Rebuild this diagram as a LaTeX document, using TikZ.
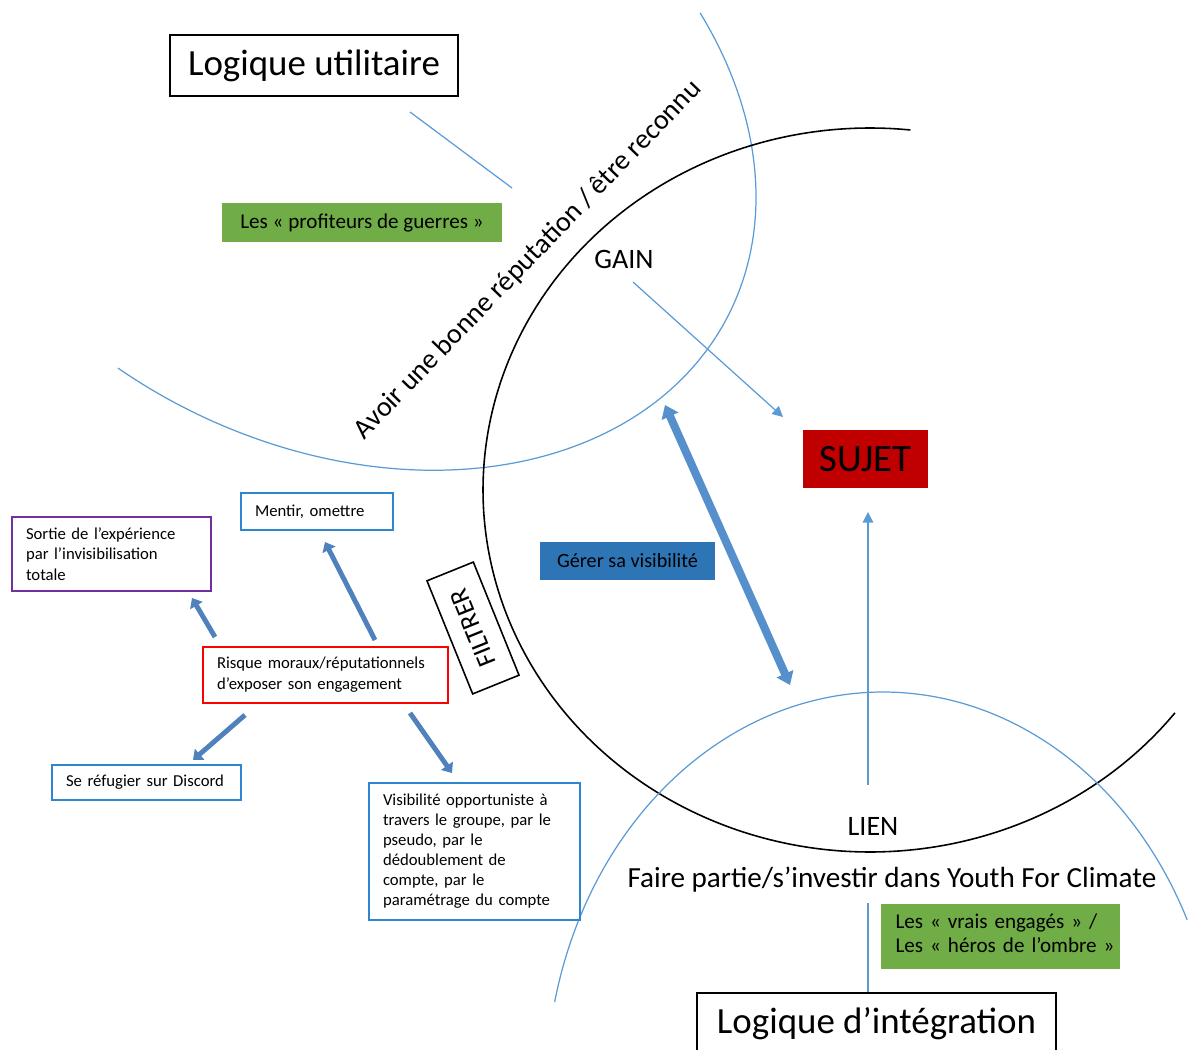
\documentclass[tikz,border=0pt]{standalone}
\usepackage{fontspec}
\setmainfont{Carlito}
\usetikzlibrary{arrows.meta}
\definecolor{lblue}{HTML}{5B9BD5}
\definecolor{fatblue}{HTML}{4F81BD}
\definecolor{dblue}{HTML}{5590CC}
\definecolor{gbox}{HTML}{70AD47}
\definecolor{sred}{HTML}{C00000}
\definecolor{gererc}{HTML}{2E75B6}
\definecolor{purp}{HTML}{7030A0}
\definecolor{bbord}{HTML}{2E86D0}
\begin{document}
\begin{tikzpicture}[x=0.02cm,y=-0.02cm,
  thinline/.style={draw=lblue, line width=0.7pt},
  thinarrow/.style={thinline, -{Triangle[length=6pt,width=6pt]}},
  fatarrow/.style={draw=fatblue, line width=2.8pt, -{Triangle[length=5pt,width=8pt]}},
  titlebox/.style={draw=black, line width=0.8pt, font=\fontsize{21}{25}\selectfont, inner sep=0pt},
  smallbox/.style={draw, line width=1pt, align=left, font=\fontsize{9.5}{11.8}\selectfont, inner xsep=0.28cm, inner ysep=0pt},
  greenbox/.style={fill=gbox, font=\fontsize{12}{13.6}\selectfont, inner sep=0pt},
  lab/.style={font=\fontsize{16}{19}\selectfont, inner sep=0pt}]
\useasboundingbox (0,0) rectangle (1196,1050);

% big arcs
\draw[thinline] plot[domain=-51:99.5, samples=160, smooth] ({333.5+393.96*cos(\x)-152.69*sin(\x)},{112.2+204.82*cos(\x)+293.7*sin(\x)});
\draw[line width=0.9pt] plot[domain=38:276, samples=150, smooth] ({870+387*cos(\x)},{490+362*sin(\x)});
\draw[thinline] plot[domain=193:334.5, samples=140, smooth] ({883+337*cos(\x)},{1092+400*sin(\x)});

% nodes
\node[titlebox, minimum width=5.76cm, minimum height=1.22cm] (util) at (314,65.5) {Logique utilitaire};
\node[greenbox, minimum width=5.6cm, minimum height=0.78cm] (profit) at (362,222.5) {Les «~profiteurs de guerres~»};
\node[lab, rotate=46] (avoir) at (528,260) {Avoir une bonne réputation / être reconnu};
\node[lab] (gain) at (624,259) {GAIN};
\node[fill=sred, minimum width=2.5cm, minimum height=1.16cm, font=\fontsize{22}{26}\selectfont, inner sep=0pt] (sujet) at (865.5,459) {SUJET};
\node[fill=gererc, minimum width=3.5cm, minimum height=0.76cm, font=\fontsize{11.5}{13}\selectfont, inner sep=0pt] (gerer) at (627.5,561) {Gérer sa visibilité};
\node[draw, line width=0.9pt, rotate=112, minimum width=2.44cm, minimum height=1.0cm, font=\fontsize{15}{18}\selectfont, inner sep=0pt] (filtrer) at (473,628) {FILTRER};
\node[smallbox, draw=bbord, text width=2.48cm, minimum height=0.74cm] (mentir) at (317,511.5) {Mentir, omettre};
\node[smallbox, draw=purp, text width=3.42cm, minimum height=1.48cm] (sortie) at (111.5,554) {Sortie de l’expérience\\par l’invisibilisation\\totale};
\node[smallbox, draw=red, text width=4.34cm, minimum height=1.12cm] (risque) at (325.5,675) {Risque moraux/réputationnels\\d’exposer son engagement};
\node[smallbox, draw=bbord, text width=3.22cm, minimum height=0.7cm] (discord) at (146.5,782.5) {Se réfugier sur Discord};
\node[smallbox, draw=bbord, text width=3.66cm, minimum height=2.74cm, font=\fontsize{9.5}{11.4}\selectfont] (visib) at (474.5,851.5) {Visibilité opportuniste à\\travers le groupe, par le\\pseudo, par le\\dédoublement de\\compte, par le\\paramétrage du compte};
\node[lab] (lien) at (873,826) {LIEN};
\node[lab, font=\fontsize{16.6}{19}\selectfont] (faire) at (892,880) {Faire partie/s’investir dans Youth For Climate};
\node[greenbox, align=left, inner xsep=0.3cm, text width=4.2cm, minimum height=1.3cm] (vrais) at (1000.5,936) {\begin{tabular}{@{}l@{}}Les «~vrais engagés~» /\\Les «~héros de l’ombre~»\end{tabular}};
\node[titlebox, minimum width=7.18cm, minimum height=1.22cm] (integ) at (876.5,1023.5) {Logique d’intégration};

% connectors
\coordinate (u1) at (410,112); \coordinate (u2) at (512,188);
\draw[thinline] (u1) -- (u2);
\coordinate (g1) at (633,282); \coordinate (g2) at (783,417);
\draw[thinarrow] (g1) -- (g2);
\coordinate (l1) at (868,785); \coordinate (l2) at (868,512);
\draw[thinarrow] (l1) -- (l2);
\coordinate (f1) at (868,903);
\draw[thinline] (f1) -- (f1 |- integ.north);
\coordinate (d1) at (665,405); \coordinate (d2) at (790,685);
\draw[draw=dblue, line width=4.6pt, {Triangle[length=7pt,width=10pt]}-{Triangle[length=7pt,width=10pt]}] (d1) -- (d2);
\coordinate (r1) at (215,637); \coordinate (r1e) at (192,598);
\coordinate (r2) at (375,640); \coordinate (r2e) at (325,542);
\coordinate (r3) at (245,715); \coordinate (r3e) at (193,760);
\coordinate (r4) at (410,713); \coordinate (r4e) at (452,773);
\draw[fatarrow] (r1) -- (r1e);
\draw[fatarrow] (r2) -- (r2e);
\draw[fatarrow] (r3) -- (r3e);
\draw[fatarrow] (r4) -- (r4e);
\end{tikzpicture}
\end{document}
